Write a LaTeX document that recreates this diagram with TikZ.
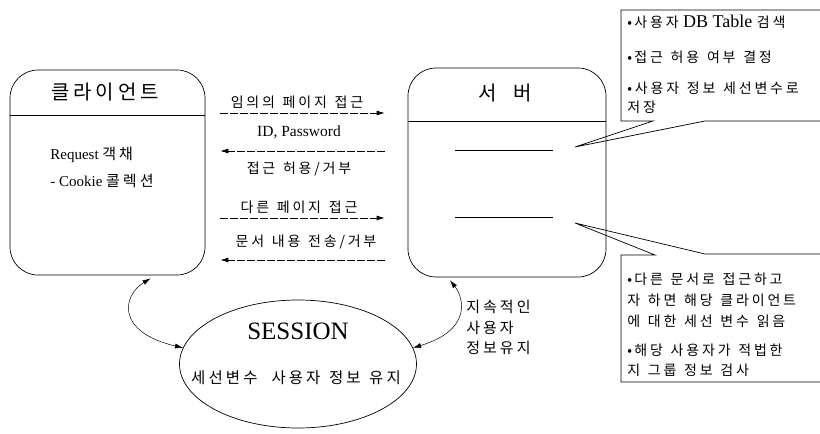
\documentclass[tikz,border=0pt]{standalone}
\usepackage{fontspec}
\setmainfont{Liberation Serif}
\newfontfamily\kr[LetterSpace=20,WordSpace=1.3]{Noto Sans CJK KR}
\usetikzlibrary{shapes.geometric,arrows.meta,calc}
\begin{document}
\begin{tikzpicture}[x=1pt,y=-1pt,line width=0.7pt,
  box/.style={draw,rounded corners=28pt,inner sep=0pt},
  tx/.style={inner sep=0pt,anchor=west},
  lbl/.style={inner sep=0pt,font=\kr\fontsize{14}{17}\selectfont},
  cl/.style={tx,font=\kr\fontsize{14}{17}\selectfont},
  arr/.style={dash pattern=on 8pt off 2pt,-{Latex[length=8pt,width=5pt]}},
  dbl/.style={line width=0.5pt,{Latex[length=8pt,width=5pt]}-{Latex[length=8pt,width=5pt]}}]
\useasboundingbox (0,0) rectangle (820,434);
% boxes
\node[box,minimum width=195pt,minimum height=205pt] (client) at (107.5,172.5) {};
\node[box,minimum width=198pt,minimum height=209pt] (server) at (507,172.5) {};
\draw ([yshift=57.5pt]client.west) -- ([yshift=57.5pt]client.east);
\draw ([yshift=51.5pt]server.west) -- ([yshift=51.5pt]server.east);
\node[inner sep=0pt,font=\kr\fontsize{20}{24}\selectfont] (ctitle) at (105,92) {클라이언트};
\node[inner sep=0pt,font=\kr\fontsize{20}{24}\selectfont] (stitle) at (505,93) {서\hspace{16pt}버};
\node[tx,font=\fontsize{15}{18}\selectfont] (req) at (50,155) {Request {\kr 객채}};
\node[tx,font=\fontsize{15}{18}\selectfont] (cook) at (50,181) {- Cookie {\kr 콜렉션}};
\draw (455,150) -- (553,150);
\draw (455,217) -- (553,217);
% messages
\draw[arr,shorten <=15pt,shorten >=23pt] ([yshift=59.5pt]client.east) -- ([yshift=59.5pt]server.west);
\draw[arr,shorten <=23pt,shorten >=15pt] ([yshift=21.5pt]server.west) -- ([yshift=21.5pt]client.east);
\draw[arr,shorten <=15pt,shorten >=23pt] ([yshift=-45.5pt]client.east) -- ([yshift=-45.5pt]server.west);
\draw[arr,shorten <=23pt,shorten >=15pt] ([yshift=-87.5pt]server.west) -- ([yshift=-87.5pt]client.east);
\node[lbl] (m1) at (297,102) {임의의 페이지 접근};
\node[inner sep=0pt,font=\fontsize{15.5}{18}\selectfont] (m2) at (299,132) {ID, Password};
\node[lbl] (m3) at (299,169) {접근 허용/거부};
\node[lbl] (m4) at (299,207) {다른 페이지 접근};
\node[lbl] (m5) at (306,242) {문서 내용 전송/거부};
% session
\node[draw,ellipse,minimum width=237pt,minimum height=128pt,inner sep=0pt] (session) at (298,364) {};
\node[inner sep=0pt,font=\fontsize{25}{30}\selectfont] (sname) at (298,331) {SESSION};
\node[inner sep=0pt,font=\kr\fontsize{15.5}{18}\selectfont] (stext) at (296,378) {세선변수\hspace{14pt}사용자 정보 유지};
\draw[dbl] ($(client.south)+(43,3)$) .. controls (122,296) and (116,332) .. (session.172);
\draw[dbl] ($(server.south)+(-57,3)$) .. controls (464,298) and (472,330) .. (session.8);
\node[inner sep=0pt,anchor=north west,align=left,font=\kr\fontsize{15}{20.5}\selectfont] (keep) at (466,300) {지속적인\\사용자\\정보유지};
% callout 1
\draw (820,10) -- (621,10) -- (621,121) -- (653,121) -- (575,147) -- (705,121) -- (820,121);
\node[tx,font=\fontsize{18}{20}\selectfont] (c1a) at (627,22) {{\kr\fontsize{14}{17}\selectfont •\,사용자} DB Table {\kr\fontsize{14}{17}\selectfont 검색}};
\node[cl] (c1b) at (627,57) {•\,접근 허용 여부 결정};
\node[cl] (c1c) at (627,88) {•사용자 정보 세선변수로};
\node[cl] (c1d) at (627,107) {저장};
% callout 2
\draw (820,254) -- (705,254) -- (575,223) -- (655,255) -- (621,255) -- (621,382) -- (820,382);
\node[cl] (c2a) at (627,279) {•\,다른 문서로 접근하고};
\node[cl] (c2b) at (627,300) {자 하면 해당 클라이언트};
\node[cl] (c2c) at (627,321) {에 대한 세선 변수 읽음};
\node[cl] (c2d) at (627,350) {•\,해당 사용자가 적법한};
\node[cl] (c2e) at (627,370) {지 그룹 정보 검사};
\end{tikzpicture}
\end{document}
